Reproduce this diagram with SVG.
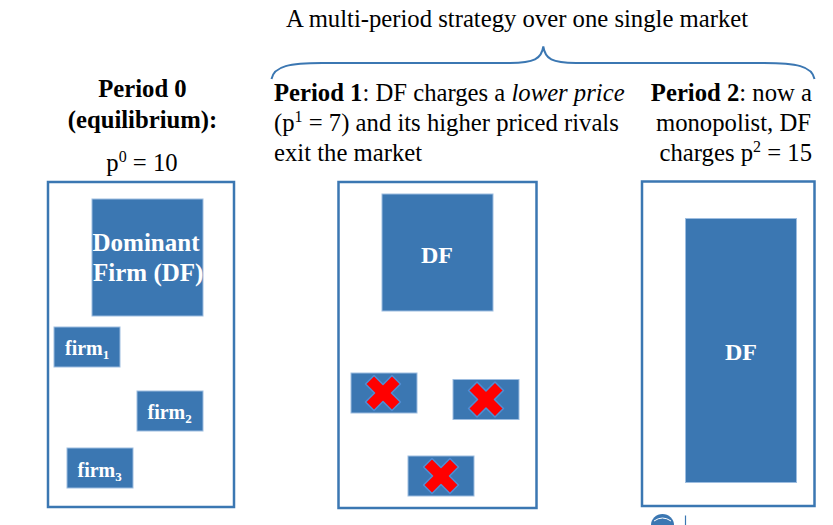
<svg xmlns="http://www.w3.org/2000/svg" width="833" height="525" viewBox="0 0 833 525">
<style>
text{font-family:"Liberation Serif","Times New Roman",serif;fill:#000}
.t{font-size:24.7px}
.b{font-weight:bold}
.w{fill:#fff;font-weight:bold}
.frame{fill:#fff;stroke:#3b77b2;stroke-width:2.5}
.firm{fill:#3b77b2;stroke:#9dbde0;stroke-width:1}
.brace{fill:none;stroke:#3b77b2;stroke-width:2}
</style>
<defs>
<g id="xmark">
<polygon points="6,-18.7 6,-6 18.7,-6 18.7,6 6,6 6,18.7 -6,18.7 -6,6 -18.7,6 -18.7,-6 -6,-6 -6,-18.7" transform="rotate(45)" fill="#ff0000" stroke="#4d8fd6" stroke-width="1.5" stroke-linejoin="round"/>
</g>
</defs>
<rect width="833" height="525" fill="#fff"/>

<g id="title">
<text class="t" x="286" y="26.5">A multi-period strategy over one single market</text>
</g>

<g id="connectors">
<path class="brace" d="M271.5,79 C274,66 290,63 322,63 L510,63 C534,63 541.5,59 543.3,46.5 C545.1,59 552,63 576,63 L764,63 C796,63 812,66 814.5,79"/>
</g>

<g id="period0-label">
<text class="t b" x="142.5" y="97" text-anchor="middle">Period 0</text>
<text class="t b" x="142.5" y="128" text-anchor="middle">(equilibrium):</text>
<text class="t" x="142" y="171" text-anchor="middle">p<tspan font-size="16" dy="-9">0</tspan><tspan dy="9"> = 10</tspan></text>
</g>

<g id="period1-label">
<text class="t" x="274" y="101"><tspan font-weight="bold">Period 1</tspan>: DF charges a <tspan font-style="italic">lower price</tspan></text>
<text class="t" x="274" y="131">(p<tspan font-size="16" dy="-9">1</tspan><tspan dy="9"> = 7) and its higher priced rivals</tspan></text>
<text class="t" x="274" y="161">exit the market</text>
</g>

<g id="period2-label">
<text class="t" x="812" y="101" text-anchor="end"><tspan font-weight="bold">Period 2</tspan>: now a</text>
<text class="t" x="811" y="131" text-anchor="end">monopolist, DF</text>
<text class="t" x="812" y="161" text-anchor="end">charges p<tspan font-size="16" dy="-9">2</tspan><tspan dy="9"> = 15</tspan></text>
</g>

<g id="market0">
<rect class="frame" x="48" y="182" width="186" height="325"/>
<g id="df0">
<rect class="firm" x="92" y="199" width="111" height="117"/>
<text class="w" font-size="25" x="92.5" y="251">Dominant</text>
<text class="w" font-size="25" x="93" y="281">Firm (DF)</text>
</g>
<g id="firm1">
<rect class="firm" x="54" y="327" width="66" height="40"/>
<text class="w" font-size="20" x="65" y="355">firm<tspan font-size="13" dy="4">1</tspan></text>
</g>
<g id="firm2">
<rect class="firm" x="137" y="391" width="66" height="40"/>
<text class="w" font-size="20" x="147.5" y="419">firm<tspan font-size="13" dy="4">2</tspan></text>
</g>
<g id="firm3">
<rect class="firm" x="67" y="448" width="66" height="40"/>
<text class="w" font-size="20" x="77.5" y="476.5">firm<tspan font-size="13" dy="4">3</tspan></text>
</g>
</g>

<g id="market1">
<rect class="frame" x="338.5" y="182" width="198" height="326"/>
<g id="df1">
<rect class="firm" x="382" y="194" width="111" height="117"/>
<text class="w" font-size="24" x="437" y="263" text-anchor="middle">DF</text>
</g>
<g id="exit1">
<rect class="firm" x="351" y="373" width="66" height="40"/>
<use href="#xmark" x="383" y="393"/>
</g>
<g id="exit2">
<rect class="firm" x="453" y="379.5" width="66" height="40"/>
<use href="#xmark" x="486" y="399.5"/>
</g>
<g id="exit3">
<rect class="firm" x="408" y="456" width="66" height="40"/>
<use href="#xmark" x="441" y="476"/>
</g>
</g>

<g id="market2">
<rect class="frame" x="642" y="181.5" width="172.5" height="324.5"/>
<g id="df2">
<rect class="firm" x="685.5" y="218.5" width="111" height="264"/>
<text class="w" font-size="24" x="741" y="360" text-anchor="middle">DF</text>
</g>
</g>

<g id="logo">
<path d="M651,525 A11.5,11 0 0 1 674,525 Z" fill="#3b77b2"/>
<path d="M654,521 Q662.5,515 671,521" fill="none" stroke="#fff" stroke-width="1"/>
<line x1="685.5" y1="515.5" x2="685.5" y2="525" stroke="#3b77b2" stroke-width="1.2"/>
</g>
</svg>
